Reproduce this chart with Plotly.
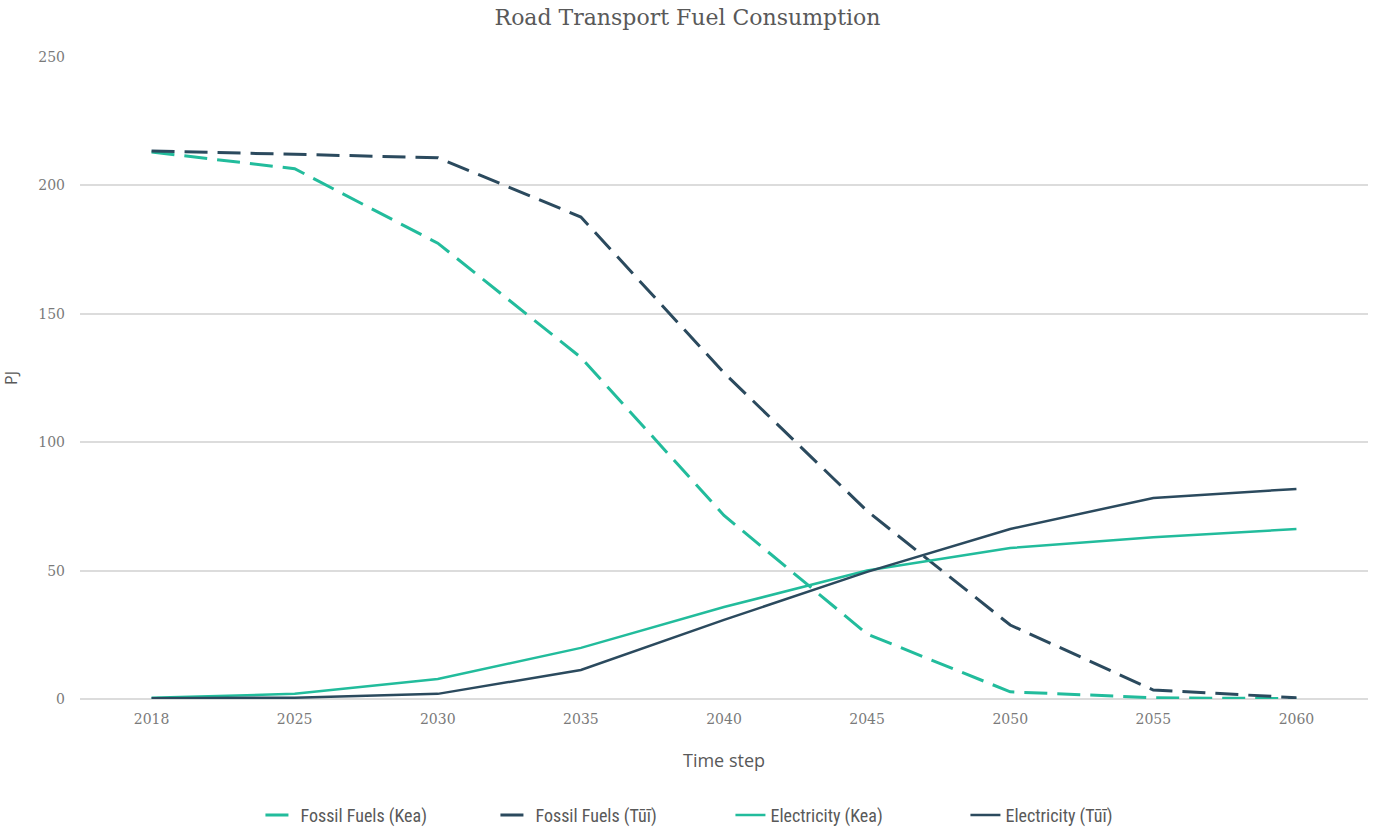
import plotly.graph_objects as go

years = ["2018", "2025", "2030", "2035", "2040", "2045", "2050", "2055", "2060"]

fossil_kea = [213.0, 206.5, 177.5, 133.0, 71.5, 25.3, 2.8, 0.5, 0.1]
fossil_tui = [213.4, 212.2, 210.8, 187.7, 127.0, 73.2, 28.8, 3.5, 0.5]
elec_kea = [0.5, 2.0, 7.8, 19.9, 35.8, 50.0, 58.8, 63.0, 66.2]
elec_tui = [0.3, 0.5, 2.0, 11.3, 30.8, 49.5, 66.2, 78.3, 81.8]

GREEN = "#22BC9C"
NAVY = "#2B4A5E"
TEXT = "#595959"
TICK = "#7A7A7A"
DASH = "23px,10px"

fig = go.Figure()
fig.add_trace(go.Scatter(x=years, y=fossil_kea, name="Fossil Fuels (Kea)", mode="lines",
                         line=dict(color=GREEN, width=3, dash=DASH)))
fig.add_trace(go.Scatter(x=years, y=fossil_tui, name="Fossil Fuels (Tūī)", mode="lines",
                         line=dict(color=NAVY, width=3, dash=DASH)))
fig.add_trace(go.Scatter(x=years, y=elec_kea, name="Electricity (Kea)", mode="lines",
                         line=dict(color=GREEN, width=2.5)))
fig.add_trace(go.Scatter(x=years, y=elec_tui, name="Electricity (Tūī)", mode="lines",
                         line=dict(color=NAVY, width=2.5)))

fig.update_layout(
    width=1375, height=832,
    margin=dict(l=80, r=7, t=57, b=133, autoexpand=False),
    paper_bgcolor="white", plot_bgcolor="white",
    title=dict(text="Road Transport Fuel Consumption", x=0.5, xanchor="center",
               y=0.979, yanchor="middle",
               font=dict(family="DejaVu Serif", size=22, color=TEXT)),
    xaxis=dict(type="category", range=[-0.5, len(years) - 0.5], automargin=False,
               showgrid=False, showline=False, zeroline=False,
               ticks="", ticklabelstandoff=10,
               tickfont=dict(family="DejaVu Serif", size=14, color=TICK),
               title=dict(text="Time step", standoff=28,
                          font=dict(family="Open Sans", size=18, color=TEXT))),
    yaxis=dict(range=[0, 250], dtick=50, showgrid=True, gridcolor="#DCDCDC", gridwidth=1.5,
               zeroline=True, zerolinecolor="#DCDCDC", zerolinewidth=1.5,
               ticks="", ticklabelstandoff=14, automargin=False,
               tickfont=dict(family="DejaVu Serif", size=14, color=TICK),
               title=dict(text="PJ", standoff=22,
                          font=dict(family="Open Sans", size=16, color=TEXT))),
    legend=dict(orientation="h", x=0.505, xanchor="center",
                yref="container", y=0.02, yanchor="middle",
                font=dict(family="Roboto Condensed, Open Sans", size=18, color=TEXT),
                entrywidth=190, entrywidthmode="pixels", tracegroupgap=0),
    showlegend=True,
)

fig.write_html("out.html")
